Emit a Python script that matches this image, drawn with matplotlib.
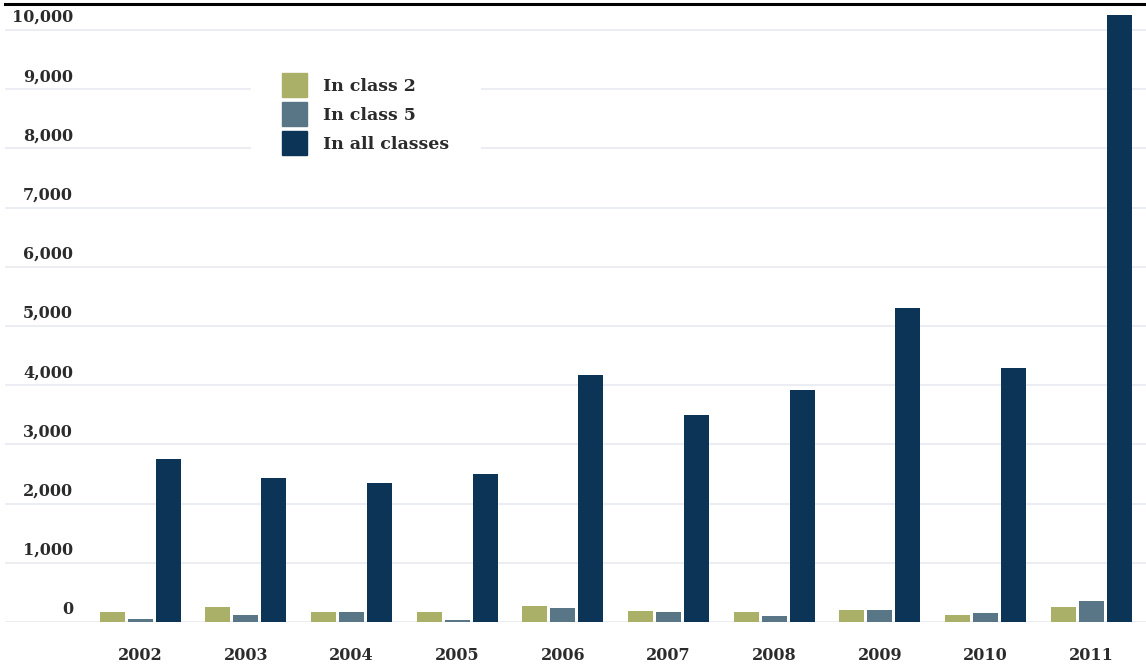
import numpy as np
import matplotlib
matplotlib.use("Agg")
import matplotlib.pyplot as plt
import matplotlib.patches as mpatches
import matplotlib.transforms as mtransforms

# data
years = ["2002", "2003", "2004", "2005", "2006", "2007", "2008", "2009", "2010", "2011"]
in_class_2 = [170, 250, 170, 170, 270, 190, 170, 200, 120, 250]
in_class_5 = [45, 120, 170, 35, 240, 170, 100, 200, 150, 355]
in_all_classes = [2750, 2430, 2350, 2500, 4170, 3500, 3920, 5300, 4290, 10250]
y_ticks = [0, 1000, 2000, 3000, 4000, 5000, 6000, 7000, 8000, 9000, 10000]

c_class2 = "#aab068"
c_class5 = "#587686"
c_all = "#0b3457"
txt_col = "#2b2b2b"

plt.rcParams['font.family'] = ['DejaVu Serif']

fig = plt.figure(figsize=(11.46, 6.66), dpi=100)
ax = fig.add_axes([5 / 1146, 44 / 666, 1141 / 1146, 618 / 666])

x = np.arange(len(years))
w = 0.237
step = 0.265
ax.bar(x - step, in_class_2, w, color=c_class2, zorder=3)
ax.bar(x, in_class_5, w, color=c_class5, zorder=3)
ax.bar(x + step, in_all_classes, w, color=c_all, zorder=3)

ax.set_xlim(-1.28, 9.52)
ax.set_ylim(0, 10440)

# gridlines
ax.set_yticks(y_ticks)
ax.set_yticklabels([])
ax.grid(axis='y', color="#e6e8f0", linewidth=1.1, zorder=0)
ax.tick_params(axis='y', length=0)

# y labels sit just above their gridline
lab_tr = mtransforms.offset_copy(ax.get_yaxis_transform(), fig=fig, x=0, y=4, units='dots')
for t in y_ticks:
    ax.text(68 / 1141, t, f"{t:,}", transform=lab_tr, ha='right', va='bottom',
            fontsize=11.5, fontweight='bold', color=txt_col)

ax.set_xticks(x)
ax.set_xticklabels(years, fontsize=11.5, fontweight='bold', color=txt_col)
ax.tick_params(axis='x', length=0, pad=18)

for s in ['left', 'right', 'bottom']:
    ax.spines[s].set_visible(False)
ax.spines['top'].set_color('black')
ax.spines['top'].set_linewidth(2.2)

handles = [mpatches.Patch(color=c_class2, label="In class 2"),
           mpatches.Patch(color=c_class5, label="In class 5"),
           mpatches.Patch(color=c_all, label="In all classes")]
leg = ax.legend(handles=handles, loc='upper left', bbox_to_anchor=(251 / 1146, 1 - 42 / 666),
                bbox_transform=fig.transFigure, borderaxespad=0, frameon=True,
                facecolor='white', edgecolor='none', framealpha=1, fancybox=False,
                prop={'size': 12.5, 'weight': 'bold'}, handlelength=1.44, handleheight=1.75,
                labelspacing=0.28, handletextpad=0.92, borderpad=1.8)
for t in leg.get_texts():
    t.set_color(txt_col)
leg.set_zorder(5)

fig.savefig("out.png", dpi=100)
